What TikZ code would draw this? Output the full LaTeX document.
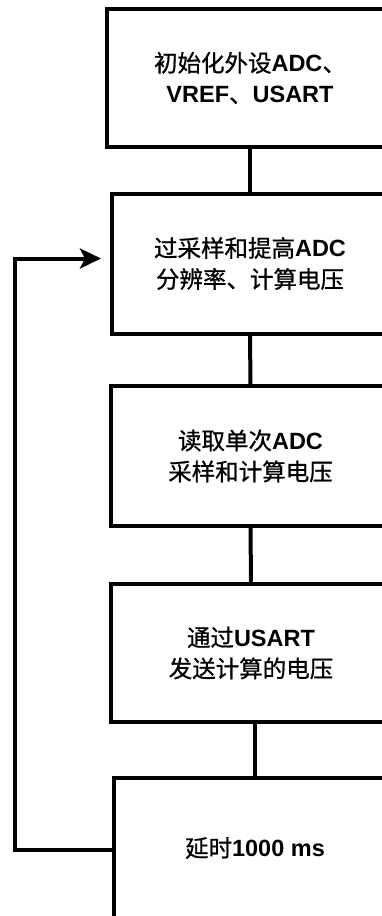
\documentclass[tikz,border=0pt]{standalone}
\usepackage{fontspec}
\setmainfont{Liberation Sans}
\newfontfamily\cjk[FakeBold=0.8]{Noto Sans CJK SC}
\usetikzlibrary{arrows.meta}
\newcommand{\zh}[1]{{\cjk #1}}
\newcommand{\la}[1]{\textbf{#1}}
\tikzset{
  flowbox/.style={draw, line width=4pt, rectangle, inner sep=0pt, align=center,
    font=\fontsize{23.5}{31}\selectfont},
  link/.style={line width=4pt},
  loop/.style={line width=4pt, -{Stealth[length=21pt,width=20pt,inset=5pt]}}
}
\begin{document}
\begin{tikzpicture}[x=1pt,y=-1pt]
\useasboundingbox (0,0) rectangle (382,916);
\clip (0,0) rectangle (382,916);
\fill[white] (0,0) rectangle (382,916);
\node[flowbox, minimum width=286pt, minimum height=138pt] (b1) at (250,78)
  {\zh{初始化外设}\la{ADC}\zh{、}\\\la{VREF}\zh{、}\la{USART}};
\node[flowbox, minimum width=276pt, minimum height=140pt] (b2) at (250,263.5)
  {\zh{过采样和提高}\la{ADC}\\\zh{分辨率、计算电压}};
\node[flowbox, minimum width=279pt, minimum height=139.5pt] (b3) at (250.5,456)
  {\zh{读取单次}\la{ADC}\\\zh{采样和计算电压}};
\node[flowbox, minimum width=280pt, minimum height=138.5pt] (b4) at (251,653)
  {\zh{通过}\la{USART}\\\zh{发送计算的电压}};
\node[flowbox, minimum width=282pt, minimum height=140pt] (b5) at (255,848)
  {\zh{延时}\la{1000 ms}};
\draw[link] (b1.south) -- (b2.north);
\draw[link] (b2.south) -- (b3.north);
\draw[link] (b3.south) -- (b4.north);
\draw[link] (b4.south -| b5.north) -- (b5.north);
\coordinate (lc) at (15,258.5);
\draw[loop, shorten >=9pt] ([yshift=-2pt]b5.west) -| (lc) -- (lc -| b2.west);
\end{tikzpicture}
\end{document}
